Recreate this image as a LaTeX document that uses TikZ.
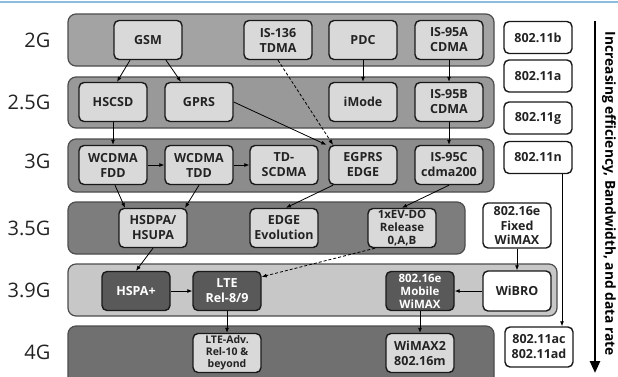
\documentclass[tikz,border=0pt]{standalone}
\usepackage{fontspec}
\setmainfont{Open Sans}
\usepackage{xcolor}
\usetikzlibrary{arrows.meta}

\definecolor{topline}{RGB}{140,188,220}
\definecolor{txt}{RGB}{35,35,35}

\begin{document}
\begin{tikzpicture}[x=1pt, y=-1pt,
    band/.style={draw=black!70, line width=1.2pt, rounded corners=8pt},
    gen/.style={anchor=east, text=txt, font=\fontsize{20}{22}\selectfont},
    tech/.style={draw=black!90, line width=1.4pt, rounded corners=5pt, fill=black!15,
      minimum width=68pt, minimum height=39pt, inner sep=1pt, align=center, text=txt,
      font=\bfseries\fontsize{12.5}{15}\selectfont},
    wifi/.style={tech, fill=white, minimum height=32pt},
    darktech/.style={tech, fill=black!65, text=white},
    link/.style={-{Latex[length=5pt,width=4pt]}, line width=0.8pt},
    weak/.style={link, dash pattern=on 3pt off 2pt}]
  \useasboundingbox (0,0) rectangle (618,376);
  \draw[topline, line width=1.5pt] (0,2) -- (618,2);
  % generation bands
  \draw[band, fill=black!36] (68,14) rectangle (494,66);
  \draw[band, fill=black!40] (68,77) rectangle (494,128);
  \draw[band, fill=black!45] (68,139) rectangle (494,192);
  \draw[band, fill=black!51] (68,202) rectangle (465,254);
  \draw[band, fill=black!22] (68,264) rectangle (557,316);
  \draw[band, fill=black!56] (68,326) rectangle (494,390);
  \node[gen] (g2)  at (54,40)  {2G};
  \node[gen] (g25) at (54,102) {2.5G};
  \node[gen] (g3)  at (54,161) {3G};
  \node[gen] (g35) at (54,228) {3.5G};
  \node[gen] (g39) at (54,290) {3.9G};
  \node[gen] (g4)  at (54,352) {4G};
  % 2G
  \node[tech] (gsm)   at (148,40) {GSM};
  \node[tech] (is136) at (278,40) {IS-136\\TDMA};
  \node[tech] (pdc)   at (363,40) {PDC};
  \node[tech] (is95a) at (449,40) {IS-95A\\CDMA};
  % 2.5G
  \node[tech] (hscsd) at (113,102) {HSCSD};
  \node[tech] (gprs)  at (199,102) {GPRS};
  \node[tech] (imode) at (363,102) {iMode};
  \node[tech] (is95b) at (449,102) {IS-95B\\CDMA};
  % 3G
  \node[tech] (wfdd)  at (113,165) {WCDMA\\FDD};
  \node[tech] (wtdd)  at (199,165) {WCDMA\\TDD};
  \node[tech] (tds)   at (284,165) {TD-\\SCDMA};
  \node[tech] (egprs) at (363,165) {EGPRS\\EDGE};
  \node[tech] (is95c) at (449,165) {IS-95C\\cdma200};
  % 3.5G
  \node[tech] (hsdpa) at (153,228) {HSDPA/\\HSUPA};
  \node[tech] (edgev) at (284,228) {EDGE\\Evolution};
  \node[tech, font=\bfseries\fontsize{11.5}{13}\selectfont] (evdo) at (402,228) {1xEV-DO\\Release\\0,A,B};
  \node[wifi, minimum height=45pt, font=\bfseries\fontsize{12.5}{14.5}\selectfont] (fixed) at (517,225.5) {802.16e\\Fixed\\WiMAX};
  % 3.9G
  \node[darktech] (hspa)   at (136,291) {HSPA+};
  \node[darktech] (lte)    at (227,291) {LTE\\Rel-8/9};
  \node[darktech, font=\bfseries\fontsize{11.5}{13}\selectfont] (mobile) at (420,291) {802.16e\\Mobile\\WiMAX};
  \node[wifi, minimum height=40pt] (wibro) at (517,291) {WiBRO};
  % 4G
  \node[tech, font=\bfseries\fontsize{10.5}{12}\selectfont] (lteadv) at (227,353) {LTE-Adv.\\Rel-10 \&\\beyond};
  \node[tech] (wimax2) at (420,353) {WiMAX2\\802.16m};
  % wifi column
  \node[wifi] (w11b) at (538,37.5) {802.11b};
  \node[wifi] (w11a) at (538,76)   {802.11a};
  \node[wifi] (w11g) at (538,118)  {802.11g};
  \node[wifi] (w11n) at (538,157.5) {802.11n};
  \node[wifi, minimum height=40pt] (w11ac) at (539,347) {802.11ac\\802.11ad};
  % evolution links
  \draw[link] ([xshift=-18pt]gsm.south) -- ([xshift=4pt]hscsd.north);
  \draw[link] ([xshift=18pt]gsm.south) -- ([xshift=-18pt]gprs.north);
  \draw[weak] (is136.south) -- ([xshift=-30pt]egprs.north);
  \draw[link] (gprs.east) -- ([xshift=-2pt]egprs.north west);
  \draw[link] (pdc) -- (imode);
  \draw[link] (is95a) -- (is95b);
  \draw[link] (hscsd) -- (wfdd);
  \draw[link] (is95b) -- (is95c);
  \draw[link] (wfdd) -- (wtdd);
  \draw[link] (wtdd) -- (tds);
  \draw[link] ([xshift=2pt]wfdd.south) -- ([xshift=-28pt]hsdpa.north);
  \draw[link] (wtdd.south) -- ([xshift=32pt]hsdpa.north);
  \draw[link] ([xshift=-30pt]egprs.south) -- ([xshift=2pt]edgev.north);
  \draw[link] (is95c.south) -- (evdo.north);
  \draw[link] (hsdpa.south) -- (hspa.north);
  \draw[link] (hspa) -- (lte);
  \draw[weak] ([xshift=-27pt]evdo.south) -- ([yshift=-6pt]lte.north east);
  \draw[link] (lte) -- (lteadv);
  \draw[link] (fixed) -- (wibro);
  \draw[link] (wibro) -- (mobile);
  \draw[link] (mobile) -- (wimax2);
  \draw[link] ([xshift=24pt]w11n.south) -- ([xshift=24pt]w11n.south |- w11ac.north);
  % trend arrow
  \coordinate (trendtop) at (595,21);
  \coordinate (trendbot) at (595,373);
  \draw[line width=2.6pt, -{Triangle[length=12pt,width=10pt]}] (trendtop) -- (trendbot);
  \node[rotate=-90, text=black, font=\bfseries\fontsize{13.8}{15}\selectfont] (trend) at (609,194)
    {Increasing efficiency, Bandwidth, and data rate};
\end{tikzpicture}
\end{document}
